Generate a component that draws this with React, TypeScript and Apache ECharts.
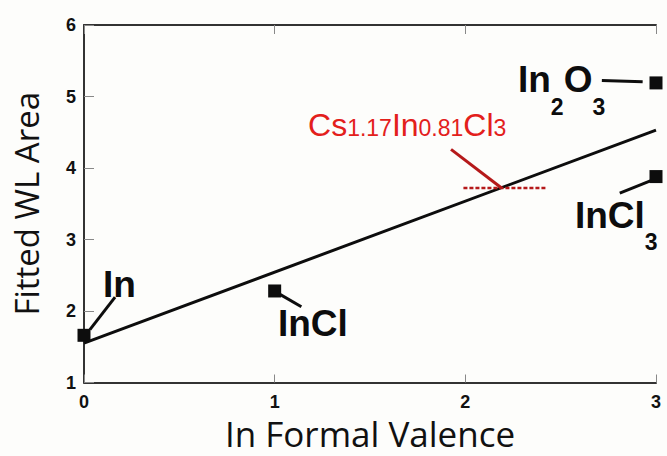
import React, { useEffect, useRef } from "react";
import * as echarts from "echarts";

// Measured points: formal valence of In vs fitted white-line area
const valence = [0, 1, 3, 3];
const wlArea = [1.66, 2.28, 5.19, 3.88];

// Linear fit through the reference compounds (end points)
const fitLine = [
  [0, 1.55],
  [3, 4.53],
];

// Cs1.17In0.81Cl3: measured area read across onto the fit line
const csLevel = [
  [1.99, 3.72],
  [2.43, 3.72],
];
const csLeader = [
  [1.925, 4.26],
  [2.19, 3.72],
];

// Leader lines joining each compound label to its point
const leaders = [
  [[0.031, 1.74], [0.163, 2.195]],
  [[1.01, 2.26], [1.14, 2.06]],
  [[2.716, 5.225], [2.93, 5.205]],
  [[2.81, 3.65], [2.98, 3.83]],
];

// Label anchors (top-left of each label) and their rich-text content
const labelAnchors = [
  [0.0996, 2.635],
  [1.017, 2.085],
  [2.276, 5.49],
  [2.575, 3.596],
];
const labelTexts = [
  "{m|In}",
  "{m|InCl}",
  "{m|In}{s|2}{m|O}{s|3}",
  "{m|InCl}{s|3}",
];
const csAnchor = [1.175, 4.819];
const csText = "{m|Cs}{s|1.17}{m|In}{s|0.81}{m|Cl}{s|3}";

const xTicks = [0, 3, 1];
const yTicks = [1, 6, 1];

const BLACK = "#0d0d0d";
const RED = "#e3201b";
const DARK_RED = "#b5191a";
const AXIS = "#333";

export default function App() {
  const ref = useRef<HTMLDivElement>(null);

  useEffect(() => {
    if (!ref.current) return;
    const chart = echarts.init(ref.current, undefined, { renderer: "svg" });

    const tickLabel = {
      fontFamily: "Liberation Sans, Arial, sans-serif",
      fontWeight: "bold" as const,
      fontSize: 18,
      color: "#111",
    };

    const lineSeries = (data: number[][], color: string, width: number, type: any = "solid") => ({
      type: "line",
      data,
      symbol: "none",
      silent: true,
      lineStyle: { color, width, type },
      z: 3,
    });

    chart.setOption({
      animation: false,
      backgroundColor: "#fdfdfb",
      grid: { left: 84, right: 11, top: 25, bottom: 67 },
      xAxis: [
        {
          type: "value",
          min: xTicks[0],
          max: xTicks[1],
          interval: xTicks[2],
          name: "In Formal Valence",
          nameLocation: "middle",
          nameGap: 38,
          nameMoveOverlap: false,
          nameTextStyle: {
            fontFamily: "Open Sans, sans-serif",
            fontSize: 35,
            lineHeight: 26,
            color: "#111",
            verticalAlign: "top",
          },
          axisLine: { show: true, lineStyle: { color: AXIS, width: 2 } },
          axisTick: { show: true, inside: true, length: 8, lineStyle: { color: "#888", width: 1 } },
          axisLabel: { ...tickLabel, margin: 12, lineHeight: 14 },
          splitLine: { show: false },
        },
        {
          type: "value",
          position: "top",
          min: xTicks[0],
          max: xTicks[1],
          interval: xTicks[2],
          axisLine: { show: true, lineStyle: { color: AXIS, width: 2 } },
          axisTick: { show: true, inside: true, length: 9, lineStyle: { color: "#888", width: 1 } },
          axisLabel: { show: false },
          splitLine: { show: false },
        },
      ],
      yAxis: {
        type: "value",
        min: yTicks[0],
        max: yTicks[1],
        interval: yTicks[2],
        name: "Fitted WL Area",
        nameLocation: "middle",
        nameRotate: 90,
        nameGap: 41,
        nameMoveOverlap: false,
        nameTextStyle: {
          fontFamily: "Open Sans, sans-serif",
          fontSize: 33,
          color: "#111",
        },
        axisLine: { show: true, lineStyle: { color: AXIS, width: 2 } },
        axisTick: { show: true, inside: true, length: 10, lineStyle: { color: "#888", width: 1 } },
        axisLabel: { ...tickLabel, margin: 8, padding: [0, 0, 8, 0] },
        splitLine: { show: false },
      },
      series: [
        lineSeries(fitLine, BLACK, 3),
        lineSeries(csLevel, DARK_RED, 2.5, [4, 2]),
        lineSeries(csLeader, DARK_RED, 3),
        ...leaders.map((seg) => lineSeries(seg, BLACK, 3)),
        {
          type: "scatter",
          data: valence.map((v, i) => [v, wlArea[i]]),
          symbol: "rect",
          symbolSize: 13,
          itemStyle: { color: BLACK, opacity: 1 },
          z: 5,
        },
        {
          type: "scatter",
          silent: true,
          symbolSize: 0,
          itemStyle: { opacity: 1 },
          data: labelAnchors.map((p, i) => ({
            value: p,
            label: { formatter: labelTexts[i] },
          })),
          label: {
            show: true,
            position: [0, 0],
            align: "left",
            verticalAlign: "top",
            rich: {
              m: {
                fontFamily: "Liberation Sans, Arial, sans-serif",
                fontWeight: "bold",
                fontSize: 37,
                color: BLACK,
                verticalAlign: "top",
              },
              s: {
                fontFamily: "Liberation Sans, Arial, sans-serif",
                fontWeight: "bold",
                fontSize: 23,
                lineHeight: 57,
                color: BLACK,
                verticalAlign: "bottom",
              },
            },
          },
          z: 6,
        },
        {
          type: "scatter",
          silent: true,
          symbolSize: 0,
          itemStyle: { opacity: 1 },
          data: [{ value: csAnchor, label: { formatter: csText } }],
          label: {
            show: true,
            position: [0, 0],
            align: "left",
            verticalAlign: "top",
            rich: {
              m: {
                fontFamily: "Liberation Sans, Arial, sans-serif",
                fontSize: 32,
                color: RED,
                verticalAlign: "bottom",
              },
              s: {
                fontFamily: "Liberation Sans, Arial, sans-serif",
                fontSize: 23,
                color: RED,
                verticalAlign: "bottom",
                padding: [0, 0, 2, 0],
              },
            },
          },
          z: 6,
        },
      ],
    });

    return () => chart.dispose();
  }, []);

  return (
    <div
      ref={ref}
      style={{ position: "fixed", left: 0, top: 0, width: 667, height: 456 }}
    />
  );
}
